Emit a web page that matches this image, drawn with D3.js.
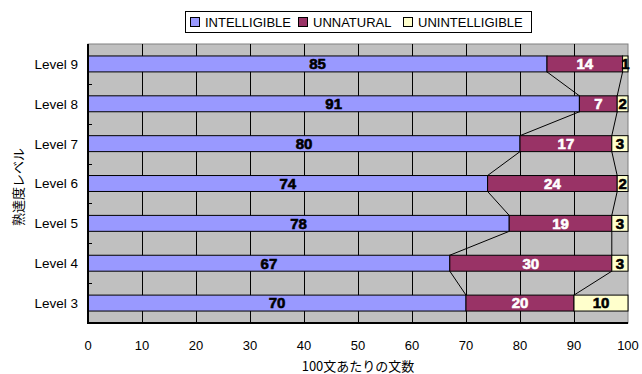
<!DOCTYPE html>
<html>
<head>
<meta charset="utf-8">
<script src="https://cdn.jsdelivr.net/npm/d3@7"></script>
<style>
  html, body { margin: 0; padding: 0; background: #fff; }
  svg { display: block; font-family: "Liberation Sans", Arial, sans-serif; }
</style>
</head>
<body>
<svg id="chart" width="642" height="374"></svg>
<script>
// Proficiency levels, top to bottom
const levels = ["Level 9", "Level 8", "Level 7", "Level 6", "Level 5", "Level 4", "Level 3"];
// Sentences per 100, by judgement
const intelligible   = [85, 91, 80, 74, 78, 67, 70];
const unnatural      = [14, 7, 17, 24, 19, 30, 20];
const unintelligible = [1, 2, 3, 2, 3, 3, 10];
const seriesNames = ["INTELLIGIBLE", "UNNATURAL", "UNINTELLIGIBLE"];
const xTicks = [0, 10, 20, 30, 40, 50, 60, 70, 80, 90, 100];

const colors = ["#9999ff", "#993366", "#ffffcc"];
const labelColors = ["#000", "#fff", "#000"];

const svg = d3.select("#chart");
const m = { left: 88, right: 628, top: 44, bottom: 323 };

const x = d3.scaleLinear().domain([0, 100]).range([m.left, m.right]);
const y = d3.scaleBand().domain(levels).range([m.top, m.bottom]).paddingInner(0.6).paddingOuter(0.3);
const band = d3.scaleBand().domain(levels).range([m.top, m.bottom]);

const rows = levels.map((lv, i) => ({ level: lv, intelligible: intelligible[i], unnatural: unnatural[i], unintelligible: unintelligible[i] }));
const keys = ["intelligible", "unnatural", "unintelligible"];
const stacked = d3.stack().keys(keys)(rows);

// plot background
svg.append("rect")
  .attr("x", m.left).attr("y", m.top)
  .attr("width", m.right - m.left).attr("height", m.bottom - m.top)
  .attr("fill", "#c0c0c0").attr("stroke", "#808080").attr("stroke-width", 1);

// vertical gridlines
svg.append("g").selectAll("line").data(xTicks.slice(1, -1)).join("line")
  .attr("x1", d => Math.round(x(d)) + 0.5).attr("x2", d => Math.round(x(d)) + 0.5)
  .attr("y1", m.top).attr("y2", m.bottom)
  .attr("stroke", "#000").attr("stroke-width", 1);

// series lines joining segment ends of neighbouring bars
const lineG = svg.append("g");
stacked.slice(0, 2).forEach(s => {
  for (let i = 0; i < levels.length - 1; i++) {
    lineG.append("line")
      .attr("x1", x(s[i][1])).attr("y1", y(levels[i]) + y.bandwidth())
      .attr("x2", x(s[i + 1][1])).attr("y2", y(levels[i + 1]))
      .attr("stroke", "#000").attr("stroke-width", 1);
  }
});

// bars
stacked.forEach((s, k) => {
  const g = svg.append("g");
  g.selectAll("rect").data(s).join("rect")
    .attr("x", d => x(d[0]))
    .attr("y", d => y(d.data.level))
    .attr("width", d => x(d[1]) - x(d[0]))
    .attr("height", y.bandwidth())
    .attr("fill", colors[k]).attr("stroke", "#000").attr("stroke-width", 1);
  g.selectAll("text").data(s).join("text")
    .attr("x", d => (x(d[0]) + x(d[1])) / 2)
    .attr("y", d => y(d.data.level) + y.bandwidth() / 2)
    .attr("dy", "0.36em")
    .attr("text-anchor", "middle")
    .attr("font-size", 15).attr("font-weight", "bold")
    .attr("fill", labelColors[k]).attr("stroke", labelColors[k]).attr("stroke-width", 0.6)
    .text(d => d.data[keys[k]]);
});

// axes
svg.append("line").attr("x1", m.left).attr("x2", m.left).attr("y1", m.top).attr("y2", m.bottom + 1)
  .attr("stroke", "#000").attr("stroke-width", 2);
svg.append("line").attr("x1", m.left - 1).attr("x2", m.right).attr("y1", m.bottom).attr("y2", m.bottom)
  .attr("stroke", "#000").attr("stroke-width", 2);

// small category ticks on the value side of the left axis
svg.append("g").selectAll("line").data(levels.slice(1)).join("line")
  .attr("x1", m.left).attr("x2", m.left + 4)
  .attr("y1", d => Math.round(band(d)) + 0.5).attr("y2", d => Math.round(band(d)) + 0.5)
  .attr("stroke", "#000").attr("stroke-width", 1);

// category labels
svg.append("g").selectAll("text").data(levels).join("text")
  .attr("x", 78).attr("y", d => y(d) + y.bandwidth() / 2)
  .attr("dy", "0.36em").attr("text-anchor", "end")
  .attr("font-size", 13.5).attr("fill", "#000")
  .text(d => d);

// value tick labels
svg.append("g").selectAll("text").data(xTicks).join("text")
  .attr("x", d => x(d)).attr("y", 350)
  .attr("text-anchor", "middle").attr("font-size", 13).attr("fill", "#000")
  .text(d => d);

// axis titles
svg.append("text").attr("x", 358).attr("y", 371).attr("text-anchor", "middle")
  .attr("font-size", 13).attr("font-family", "'Noto Sans CJK JP', sans-serif")
  .text("100文あたりの文数");
svg.append("text").attr("transform", "translate(23,187) rotate(-90)").attr("text-anchor", "middle")
  .attr("font-size", 13).attr("font-family", "'Noto Sans CJK JP', sans-serif")
  .text("熟達度レベル");

// legend
const lg = svg.append("g");
lg.append("rect").attr("x", 185.5).attr("y", 11.5).attr("width", 346).attr("height", 21)
  .attr("fill", "#fff").attr("stroke", "#000").attr("stroke-width", 1);
const legendX = [190, 298, 403];
seriesNames.forEach((name, k) => {
  lg.append("rect").attr("x", legendX[k] + 0.5).attr("y", 17.5).attr("width", 9).attr("height", 9)
    .attr("fill", colors[k]).attr("stroke", "#000").attr("stroke-width", 1);
  lg.append("text").attr("x", legendX[k] + 15).attr("y", 22).attr("dy", "0.36em")
    .attr("font-size", 13).attr("fill", "#000").text(name);
});
</script>
</body>
</html>
